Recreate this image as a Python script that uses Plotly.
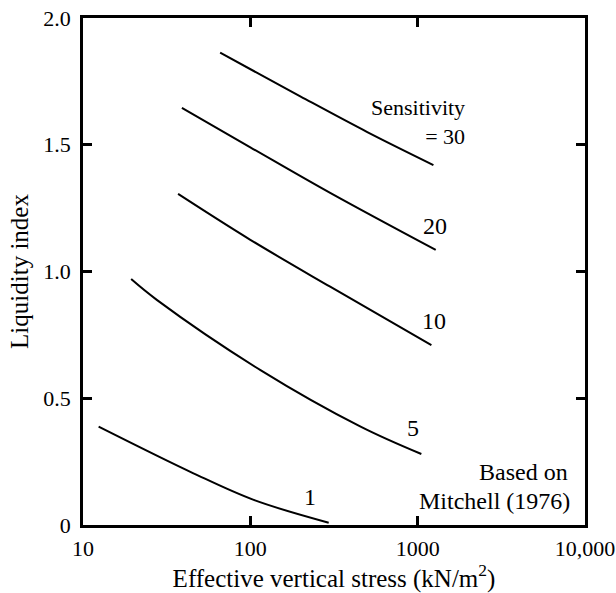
import math
import plotly.graph_objects as go

# Sensitivity curves (effective vertical stress kN/m2 vs liquidity index)
stress_s30 = [66, 200, 500, 1242]
li_s30 = [1.863, 1.69, 1.55, 1.42]

stress_s20 = [39, 100, 300, 1282]
li_s20 = [1.645, 1.49, 1.31, 1.085]

stress_s10 = [37, 100, 300, 1208]
li_s10 = [1.306, 1.125, 0.94, 0.71]

stress_s5 = [19.4, 27.6, 115, 456, 1052]
li_s5 = [0.97, 0.888, 0.611, 0.388, 0.28]

stress_s1 = [12.4, 45.7, 104.7, 294]
li_s1 = [0.388, 0.204, 0.099, 0.009]

x_tick_vals = [10, 100, 1000, 10000]
x_tick_text = ["10", "100", "1000", "10,000"]
y_tick_vals = [0, 0.5, 1.0, 1.5, 2.0]
y_tick_text = ["0", "0.5", "1.0", "1.5", "2.0"]

# curve labels: (text, stress, liquidity index, anchor, size)
curve_labels = [
    ("Sensitivity<br>= 30", 1972, 1.59, "right", 22),
    ("20", 1270, 1.18, "center", 24),
    ("10", 1253, 0.805, "center", 24),
    ("5", 938, 0.383, "center", 24),
    ("1", 228, 0.11, "center", 24),
    ("Based on", 8150, 0.209, "right", 24),
    ("Mitchell (1976)", 8375, 0.095, "right", 24),
]

FONT = "Liberation Serif"
TITLE_SIZE = 25
TICK_SIZE = 22

fig = go.Figure()
for xs, ys in [(stress_s30, li_s30), (stress_s20, li_s20), (stress_s10, li_s10),
               (stress_s5, li_s5), (stress_s1, li_s1)]:
    fig.add_trace(go.Scatter(x=xs, y=ys, mode="lines",
                             line=dict(color="black", width=2, shape="spline"),
                             showlegend=False, hoverinfo="skip"))

for text, x, y, anchor, size in curve_labels:
    fig.add_annotation(x=math.log10(x), y=y, xref="x", yref="y", text=text,
                       showarrow=False, xanchor=anchor, yanchor="middle", align="right",
                       font=dict(family=FONT, size=size, color="black"))

axis_common = dict(showline=True, linecolor="black", linewidth=2.5, mirror="ticks",
                   ticks="inside", ticklen=9, tickwidth=2.5, tickcolor="black",
                   showgrid=False, zeroline=False, automargin=False,
                   tickfont=dict(family=FONT, size=TICK_SIZE, color="black"))

fig.update_xaxes(type="log", range=[1, 4], tickvals=x_tick_vals, ticktext=x_tick_text,
                 ticklabelstandoff=2,
                 title=dict(text="Effective vertical stress (kN/m<sup>2</sup>)", standoff=4,
                            font=dict(family=FONT, size=TITLE_SIZE, color="black")),
                 **axis_common)
fig.update_yaxes(range=[0, 2], tickvals=y_tick_vals, ticktext=y_tick_text,
                 ticklabelstandoff=5,
                 title=dict(text="Liquidity index", standoff=8,
                            font=dict(family=FONT, size=TITLE_SIZE, color="black")),
                 **axis_common)

fig.update_layout(width=616, height=593, plot_bgcolor="white", paper_bgcolor="white",
                  margin=dict(l=83, r=31, t=18, b=68))

# remove the browser's default 8px body margin so the figure fills the window exactly
fig.write_html("out.html", config={"displayModeBar": False},
               post_script="document.body.style.margin='0';")
